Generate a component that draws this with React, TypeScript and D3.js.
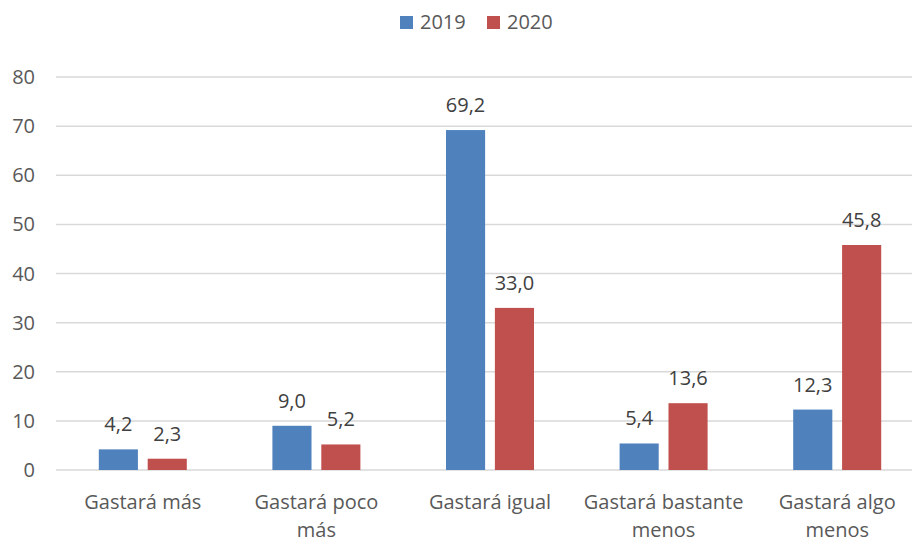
import React, { useEffect, useRef } from 'react';
import * as d3 from 'd3';

const categories = ['Gastará más', 'Gastará poco más', 'Gastará igual', 'Gastará bastante menos', 'Gastará algo menos'];
const categoryLines = [['Gastará más'], ['Gastará poco', 'más'], ['Gastará igual'], ['Gastará bastante', 'menos'], ['Gastará algo', 'menos']];
const series = ['2019', '2020'];
const values2019 = [4.2, 9.0, 69.2, 5.4, 12.3];
const values2020 = [2.3, 5.2, 33.0, 13.6, 45.8];
const yTicks = [0, 10, 20, 30, 40, 50, 60, 70, 80];
const colors = ['#4f81bd', '#c0504d'];

const FONT = '"Open Sans", sans-serif';
const TEXT = '#595959';
const FS = 20;

const App: React.FC = () => {
  const svgRef = useRef<SVGSVGElement>(null);

  useEffect(() => {
    if (!svgRef.current) return;
    const svg = d3.select(svgRef.current);
    svg.selectAll('*').remove();

    const x = d3.scaleBand<string>().domain(categories).range([56, 924]);
    const xs = d3.scaleBand<string>().domain(series).range([-44, 44]).paddingInner(0.2);
    const y = d3.scaleLinear().domain([0, 80]).range([470, 77]);

    // grid lines
    svg.append('g')
      .selectAll('line')
      .data(yTicks)
      .join('line')
      .attr('x1', 56)
      .attr('x2', 912)
      .attr('y1', d => y(d))
      .attr('y2', d => y(d))
      .attr('stroke', '#d9d9d9')
      .attr('stroke-width', 1.5);

    // y tick labels
    svg.append('g')
      .selectAll('text')
      .data(yTicks)
      .join('text')
      .attr('x', 35)
      .attr('y', d => y(d))
      .attr('dy', '0.35em')
      .attr('text-anchor', 'end')
      .attr('font-family', FONT)
      .attr('font-size', FS)
      .attr('fill', TEXT)
      .text(d => d);

    const data = [values2019, values2020];
    series.forEach((s, si) => {
      const g = svg.append('g');
      g.selectAll('rect')
        .data(data[si])
        .join('rect')
        .attr('x', (d, i) => x(categories[i])! + x.bandwidth() / 2 + xs(s)!)
        .attr('width', xs.bandwidth())
        .attr('y', d => y(d))
        .attr('height', d => y(0) - y(d))
        .attr('fill', colors[si]);

      g.selectAll('text')
        .data(data[si])
        .join('text')
        .attr('x', (d, i) => x(categories[i])! + x.bandwidth() / 2 + xs(s)! + xs.bandwidth() / 2)
        .attr('y', d => y(d) - 18)
        .attr('text-anchor', 'middle')
        .attr('font-family', FONT)
        .attr('font-size', FS)
        .attr('fill', '#404040')
        .text(d => d3.format('.1f')(d).replace('.', ','));
    });

    // x labels
    const xl = svg.append('g')
      .selectAll('text')
      .data(categories)
      .join('text')
      .attr('x', d => x(d)! + x.bandwidth() / 2)
      .attr('y', 509)
      .attr('text-anchor', 'middle')
      .attr('font-family', FONT)
      .attr('font-size', FS)
      .attr('fill', TEXT);
    xl.selectAll('tspan')
      .data((d, i) => categoryLines[i].map(l => ({ l, c: d })))
      .join('tspan')
      .attr('x', d => x(d.c)! + x.bandwidth() / 2)
      .attr('dy', (d, i) => (i === 0 ? 0 : 28))
      .text(d => d.l);

    // legend
    const legend = svg.append('g');
    const legendX = [400, 487];
    series.forEach((s, i) => {
      legend.append('rect')
        .attr('x', legendX[i])
        .attr('y', 16)
        .attr('width', 13)
        .attr('height', 13)
        .attr('fill', colors[i]);
      legend.append('text')
        .attr('x', legendX[i] + 20)
        .attr('y', 22)
        .attr('dy', '0.35em')
        .attr('font-family', FONT)
        .attr('font-size', FS)
        .attr('fill', TEXT)
        .text(s);
    });
  }, []);

  return (
    <div style={{ position: 'absolute', left: 0, top: 0, width: 912, height: 540, background: '#fff' }}>
      <svg ref={svgRef} width={912} height={540} style={{ display: 'block' }} />
    </div>
  );
};

export default App;
